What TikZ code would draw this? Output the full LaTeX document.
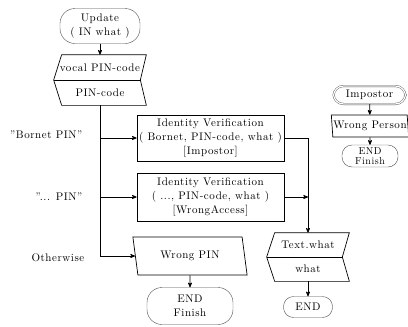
\documentclass[tikz,border=0pt]{standalone}
\usepackage{fontspec}
\setmainfont{Latin Modern Roman}[LetterSpace=5]
\usetikzlibrary{arrows,shapes.geometric}

\begin{document}
\begin{tikzpicture}[x=1pt,y=-1pt,>=stealth',line width=0.7pt,
                    font=\fontsize{11}{14}\selectfont]
   \tikzstyle{terminal}=[draw=black!70,line width=0.4pt,rounded corners=15pt,align=center,inner sep=1pt]
   \tikzstyle{process}=[draw,align=center,minimum width=147pt,inner sep=1pt]
   \tikzstyle{output}=[draw,trapezium,trapezium stretches=true,inner sep=0.5pt]
   \tikzstyle{inout}=[minimum width=92pt,minimum height=50pt,inner sep=0pt]
   \tikzstyle{guard}=[anchor=east]

   \useasboundingbox (0,0) rectangle (408,327);

   % main column
   \node[terminal,minimum width=80pt,minimum height=35pt] (update) at (100,26) {Update\\( IN what )};
   \node[inout]                                   (readpin)  at (100,80)  {};
   \node                                          (vocal)    at (100,67.5) {vocal PIN-code};
   \node                                          (pincode)  at (100,92.5) {PIN-code};
   \node[process,minimum height=46pt]             (verif1)   at (210.5,138) {Identity Verification\\( Bornet, PIN-code, what )\\{[}Impostor{]}};
   \node[process,minimum height=48pt]             (verif2)   at (210.5,197) {Identity Verification\\( ..., PIN-code, what )\\{[}WrongAccess{]}};
   \node[output,trapezium left angle=105,trapezium right angle=75,
         minimum width=115pt,minimum height=38pt] (wrongpin) at (190,256) {Wrong PIN};
   \node[terminal,minimum width=86pt,minimum height=37pt] (endpin) at (190,306) {END\\Finish};

   \node[guard] (gbornet) at (86,135) {"Bornet PIN"};
   \node[guard] (gother)  at (86,197) {"... PIN"};
   \node[guard] (gelse)   at (88,258) {Otherwise};

   % result column
   \node[inout,minimum width=82pt,minimum height=48pt] (showtext) at (308,257) {};
   \node                                          (textwhat) at (308,245) {Text.what};
   \node                                          (what)     at (308,269) {what};
   \node[terminal,rounded corners=10pt,minimum width=49pt,minimum height=21pt] (endtext) at (308,307) {END};

   % impostor handler
   \node[terminal,double,double distance=1.2pt,rounded corners=10pt,
         minimum width=72pt,minimum height=18pt]  (impostor) at (369.5,95) {Impostor};
   \node[output,trapezium left angle=98,trapezium right angle=82,
         minimum width=76pt,minimum height=22pt]  (wrongperson) at (370,126) {Wrong Person};
   \node[terminal,rounded corners=10pt,minimum width=56pt,minimum height=22pt,
         font=\fontsize{10}{10}\selectfont] (endperson) at (370,156) {END\\Finish};

   % in/out outlines
   \draw ([xshift=8pt]readpin.north west) -- (readpin.north east) -- ([xshift=-6pt]readpin.east)
         -- (readpin.south east) -- ([xshift=8pt]readpin.south west) -- (readpin.west) -- cycle;
   \draw (readpin.west) -- ([xshift=-6pt]readpin.east);
   \draw ([xshift=8pt]showtext.north west) -- (showtext.north east) -- ([xshift=-7pt]showtext.east)
         -- (showtext.south east) -- ([xshift=8pt]showtext.south west) -- (showtext.west) -- cycle;
   \draw (showtext.west) -- ([xshift=-7pt]showtext.east);

   % connectors
   \draw[->] (update) -- (readpin);
   \draw[->] (readpin.south) |- (wrongpin.west);
   \draw[->] (verif1.west -| readpin.south) -- (verif1.west);
   \draw[->] (verif2.west -| readpin.south) -- (verif2.west);
   \draw[->] (wrongpin) -- (endpin);
   \draw[->] (verif1.east) -| (showtext.north);
   \draw[->] (verif2.east) -- (verif2.east -| showtext.north);
   \draw[->] (showtext) -- (endtext);
   \draw[->] (impostor) -- (wrongperson);
   \draw[->] (wrongperson) -- (endperson);
\end{tikzpicture}
\end{document}
